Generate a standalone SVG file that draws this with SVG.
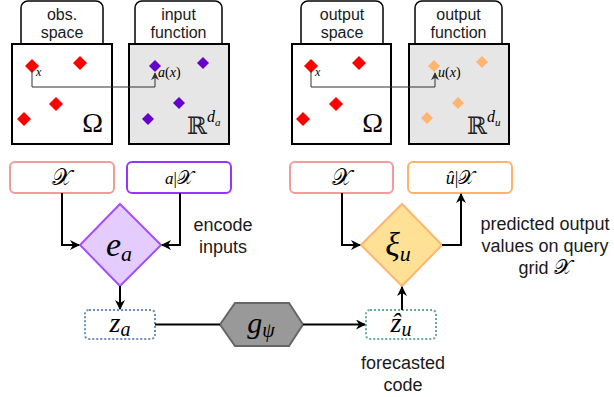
<svg xmlns="http://www.w3.org/2000/svg" width="614" height="397" viewBox="0 0 614 397">
<style>
.lbl{font-family:"Liberation Sans",Arial,sans-serif;fill:#1a1a1a;text-anchor:middle}
.tab{font-size:16px}
.big{font-size:18px}
.m{font-family:"Liberation Serif","DejaVu Serif",serif;font-style:italic;fill:#000}
.cal{font-family:"DejaVu Sans","Noto Sans",serif;font-style:normal}
.panel{stroke:#000;stroke-width:2}
.tabr{fill:#fff;stroke:#000;stroke-width:1.5}
.conn{fill:none;stroke:#000;stroke-width:2}
.thin{fill:none;stroke:#333;stroke-width:1}
</style>
<defs>
<marker id="ah2" viewBox="0 0 10 10" refX="9" refY="5" markerWidth="10" markerHeight="10" orient="auto" markerUnits="userSpaceOnUse">
<path d="M0,0 L10,5 L0,10 L3,5 z" fill="#000"/>
</marker>
<marker id="ahs" viewBox="0 0 10 10" refX="9" refY="5" markerWidth="8" markerHeight="8" orient="auto" markerUnits="userSpaceOnUse">
<path d="M0,0 L10,5 L0,10 L3,5 z" fill="#333"/>
</marker>
<path id="dm" d="M0,-7 L7,0 L0,7 L-7,0 z"/>
<path id="ds" d="M0,-6 L6,0 L0,6 L-6,0 z"/>
</defs>

<g id="obs-space">
<rect class="tabr" x="21" y="1" width="82" height="50" rx="7"/>
<text class="lbl tab" x="62" y="20">obs.</text>
<text class="lbl tab" x="62" y="38">space</text>
<rect class="panel" x="12" y="44" width="100" height="100" fill="#fff"/>
<g fill="#ff0000">
<use href="#dm" x="32" y="66"/><use href="#dm" x="80" y="63"/><use href="#dm" x="56" y="104"/><use href="#dm" x="24" y="119"/>
</g>
<text class="m" x="36" y="76" font-size="12">x</text>
<text x="103" y="132" font-family="Liberation Serif,serif" font-size="28" text-anchor="end">Ω</text>
</g>

<g id="input-function">
<rect class="tabr" x="135" y="1" width="87" height="50" rx="7"/>
<text class="lbl tab" x="178.5" y="20">input</text>
<text class="lbl tab" x="178.5" y="38">function</text>
<rect class="panel" x="129" y="44" width="100" height="100" fill="#e6e6e6"/>
<g fill="#6600cc">
<use href="#ds" x="155" y="66"/><use href="#ds" x="203" y="63"/><use href="#ds" x="179" y="103"/><use href="#ds" x="148" y="119"/>
</g>
<text class="m" x="158" y="77" font-size="14">a<tspan font-style="normal">(</tspan>x<tspan font-style="normal">)</tspan></text>
<text x="187" y="134" font-family="DejaVu Serif,serif" font-size="24" fill="#222">ℝ<tspan class="m" font-size="16" dy="-12">d</tspan><tspan class="m" font-size="11" dy="4">a</tspan></text>
</g>

<g id="output-space">
<rect class="tabr" x="301" y="1" width="82" height="50" rx="7"/>
<text class="lbl tab" x="342" y="20">output</text>
<text class="lbl tab" x="342" y="38">space</text>
<rect class="panel" x="292" y="44" width="99" height="100" fill="#fff"/>
<g fill="#ff0000">
<use href="#dm" x="311" y="66"/><use href="#dm" x="359" y="63"/><use href="#dm" x="336" y="104"/><use href="#dm" x="303" y="119"/>
</g>
<text class="m" x="315" y="76" font-size="12">x</text>
<text x="383" y="132" font-family="Liberation Serif,serif" font-size="28" text-anchor="end">Ω</text>
</g>

<g id="output-function">
<rect class="tabr" x="415" y="1" width="87" height="50" rx="7"/>
<text class="lbl tab" x="458.5" y="20">output</text>
<text class="lbl tab" x="458.5" y="38">function</text>
<rect class="panel" x="409" y="44" width="100" height="100" fill="#e6e6e6"/>
<g fill="#ffb570">
<use href="#ds" x="434" y="66"/><use href="#ds" x="482" y="62"/><use href="#ds" x="458" y="103"/><use href="#ds" x="427" y="118"/>
</g>
<text class="m" x="438" y="77" font-size="14">u<tspan font-style="normal">(</tspan>x<tspan font-style="normal">)</tspan></text>
<text x="467" y="134" font-family="DejaVu Serif,serif" font-size="24" fill="#222">ℝ<tspan class="m" font-size="16" dy="-12">d</tspan><tspan class="m" font-size="11" dy="4">u</tspan></text>
</g>

<g id="X-in">
<rect x="10" y="162" width="104" height="31" rx="5" fill="#fff" stroke="#f19c99" stroke-width="2"/>
<text class="m cal" x="62" y="185" font-size="23" text-anchor="middle">𝒳</text>
</g>
<g id="a-X">
<rect x="127" y="162" width="104" height="31" rx="5" fill="#fff" stroke="#9933ff" stroke-width="2"/>
<text class="m" x="179" y="184" font-size="17" text-anchor="middle">a<tspan font-style="normal">|</tspan><tspan class="cal" font-size="19">𝒳</tspan></text>
</g>
<g id="X-out">
<rect x="290" y="162" width="103" height="31" rx="5" fill="#fff" stroke="#f19c99" stroke-width="2"/>
<text class="m cal" x="341.5" y="185" font-size="23" text-anchor="middle">𝒳</text>
</g>
<g id="u-X">
<rect x="408" y="162" width="104" height="31" rx="5" fill="#fff" stroke="#ffb366" stroke-width="2"/>
<text class="m" x="460" y="184" font-size="18" text-anchor="middle">û<tspan font-style="normal">|</tspan><tspan class="cal" font-size="19">𝒳</tspan></text>
</g>

<g id="e-a">
<path d="M120,204 L161,245 L120,286 L80,245 z" fill="#e5ccff" stroke="#a64dff" stroke-width="2"/>
<text class="m" x="119" y="256" font-size="34" text-anchor="middle">e<tspan font-size="22" dy="5">a</tspan></text>
</g>
<g id="xi-u">
<path d="M402,204 L442,245 L402,286 L361,245 z" fill="#ffe196" stroke="#ffb570" stroke-width="2"/>
<text class="m" x="398" y="256" font-size="34" text-anchor="middle">ξ<tspan font-size="22" dy="5">u</tspan></text>
</g>
<g id="z-a">
<rect x="85" y="310" width="70" height="29" rx="4" fill="#fff" stroke="#6c8ebf" stroke-width="2" stroke-dasharray="2 2"/>
<text class="m" x="120" y="332" font-size="28" text-anchor="middle">z<tspan font-size="20" dy="4">a</tspan></text>
</g>
<g id="g-psi">
<path d="M220,324.5 L235,303 L289,303 L303,324.5 L289,346 L235,346 z" fill="#999" stroke="#666" stroke-width="2"/>
<text class="m" x="261" y="333" font-size="30" text-anchor="middle">g<tspan font-size="20" dy="4">ψ</tspan></text>
</g>
<g id="z-u">
<rect x="366" y="310" width="70" height="29" rx="4" fill="#fff" stroke="#67ab9f" stroke-width="2" stroke-dasharray="2 2"/>
<text class="m" x="401" y="332" font-size="28" text-anchor="middle">ẑ<tspan font-size="20" dy="4">u</tspan></text>
</g>

<g id="labels">
<text class="lbl big" x="223" y="231">encode</text>
<text class="lbl big" x="223" y="253">inputs</text>
<text class="lbl big" x="545" y="230">predicted output</text>
<text class="lbl big" x="545" y="252">values on query</text>
<text class="lbl big" x="545" y="274">grid <tspan class="m cal" font-size="21">𝒳</tspan></text>
<text class="lbl big" x="403" y="369">forecasted</text>
<text class="lbl big" x="403" y="391">code</text>
</g>

<g id="connectors">
<path class="thin" d="M32,70 V87 H155 V73" marker-end="url(#ahs)"/>
<path class="thin" d="M311,70 V87 H435 V73" marker-end="url(#ahs)"/>
<path class="conn" d="M62,193 V245 H79" marker-end="url(#ah2)"/>
<path class="conn" d="M180,193 V245 H162" marker-end="url(#ah2)"/>
<path class="conn" d="M342,193 V245 H360" marker-end="url(#ah2)"/>
<path class="conn" d="M442,245 H461 V194" marker-end="url(#ah2)"/>
<path class="conn" d="M120,286 V309" marker-end="url(#ah2)"/>
<path class="conn" d="M155,324.5 H220"/>
<path class="conn" d="M303,324.5 H365" marker-end="url(#ah2)"/>
<path class="conn" d="M402,310 V287" marker-end="url(#ah2)"/>
</g>
</svg>
